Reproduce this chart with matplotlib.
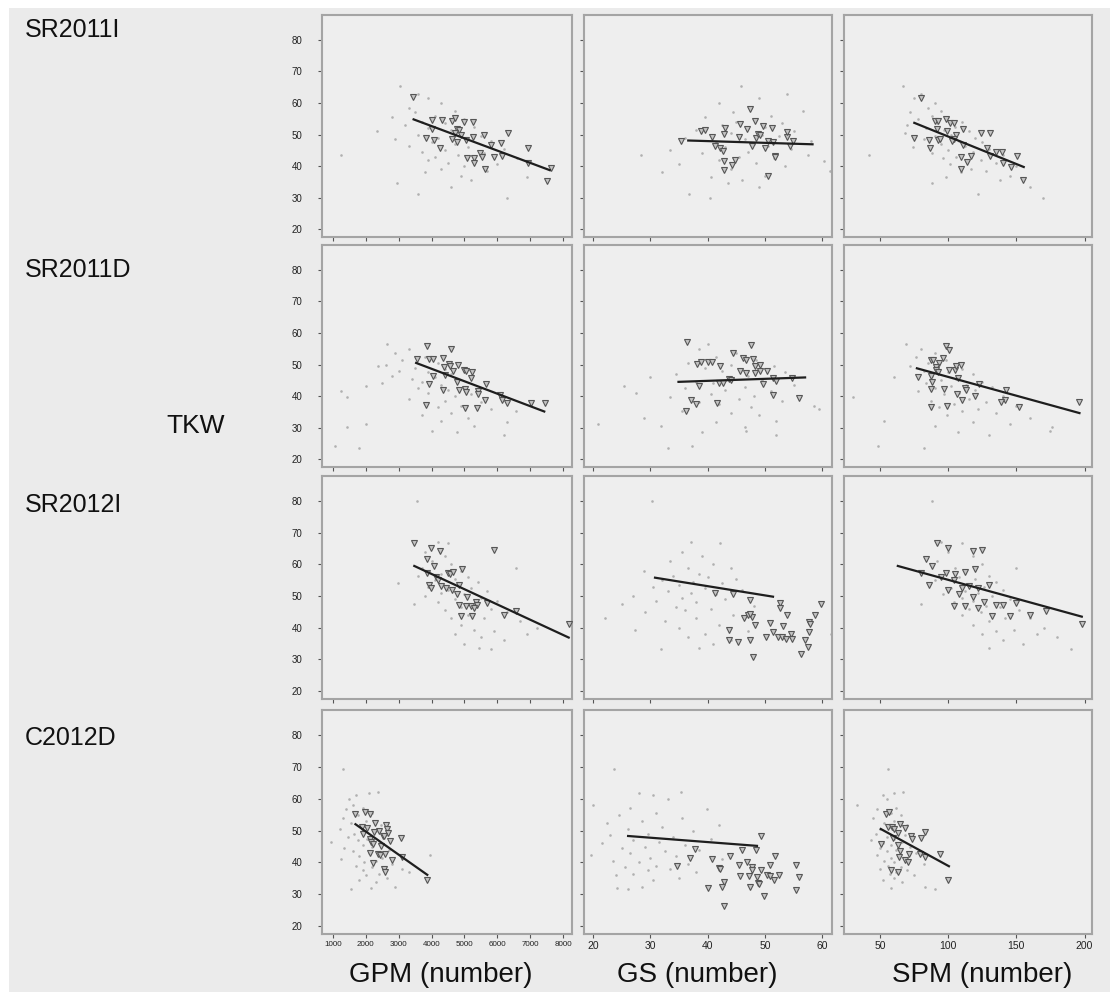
import matplotlib
matplotlib.use("Agg")
import matplotlib.pyplot as plt
from matplotlib.patches import Rectangle

plt.rcParams["font.family"] = ["Liberation Sans", "DejaVu Sans"]

W, H = 1116, 996

ROWS = ["SR2011I", "SR2011D", "SR2012I", "C2012D"]
COLS = ["GPM (number)", "GS (number)", "SPM (number)"]
Y_LABEL = "TKW"

X_TICKS = [[1000, 2000, 3000, 4000, 5000, 6000, 7000, 8000],
           [20, 30, 40, 50, 60],
           [50, 100, 150, 200]]
Y_TICKS = [20, 30, 40, 50, 60, 70, 80]

# ---- background population (grey dots): TKW per row, trait values per panel ----
DOT_Y_SR2011I = [65.3, 63.0, 61.5, 60.0, 58.5, 57.5, 57.0, 56.0, 55.5, 55.0, 54.0, 53.5, 53.0, 52.5,
                 52.0, 51.5, 51.0, 50.5, 50.0, 49.5, 49.0, 48.5, 48.0, 47.5, 47.0, 46.5, 46.0, 45.5,
                 45.0, 44.5, 44.0, 43.5, 43.0, 42.5, 42.0, 41.5, 41.0, 40.5, 40.0, 39.0, 38.5, 38.0,
                 37.0, 36.5, 35.5, 34.7, 33.5, 31.0, 29.8, 43.5]
DOT_X_SR2011I_GPM = [3045, 3600, 3900, 4300, 3300, 4700, 3500, 4100, 2800, 5000, 3700, 4400, 3200, 5300,
                     3900, 4600, 2330, 4900, 3600, 5500, 4200, 2900, 5800, 4000, 4700, 3300, 5100, 6200,
                     4400, 3700, 5600, 4800, 4100, 6600, 3900, 5300, 4500, 6000, 5000, 4300, 5700, 3800,
                     4900, 6900, 5200, 2943, 4600, 3600, 6300, 1255]
DOT_X_SR2011I_GS = [45.8, 53.9, 49.0, 42.0, 47.5, 56.7, 44.5, 51.0, 39.5, 48.5, 45.0, 53.0, 42.5, 50.0,
                    47.0, 38.0, 55.0, 44.0, 49.5, 52.5, 36.0, 46.5, 58.0, 41.5, 48.0, 50.5, 43.0, 54.5,
                    33.5, 47.0, 39.0, 57.5, 45.5, 51.5, 42.0, 60.3, 48.5, 35.0, 53.5, 44.0, 61.3, 32.1,
                    50.0, 40.5, 46.0, 43.5, 49.0, 36.8, 40.4, 28.3]
DOT_X_SR2011I_SPM = [66.7, 80, 75, 90, 85, 95, 72, 88, 100, 78, 110, 92, 70, 105, 84, 97, 115, 68, 102,
                     90, 120, 82, 108, 125, 95, 112, 74, 130, 100, 118, 88, 140, 106, 96, 124, 113, 135,
                     101, 150, 117, 128, 109, 145, 98, 138, 88.2, 160, 122, 169.5, 42.1]

DOT_Y_SR2011D = [56.5, 55.0, 53.5, 52.5, 51.5, 50.5, 50.0, 49.6, 49.0, 48.5, 48.0, 47.5, 47.0, 46.5,
                 46.0, 45.5, 45.0, 44.5, 44.0, 43.5, 43.1, 43.0, 42.5, 42.0, 41.5, 41.0, 40.5, 40.0,
                 39.6, 39.1, 38.5, 38.0, 37.5, 37.0, 36.5, 36.0, 35.3, 34.5, 34.0, 33.0, 32.0, 31.7,
                 31.2, 30.3, 30.6, 29.0, 28.6, 27.6, 24.2, 23.6]
DOT_X_SR2011D_GPM = [2633, 3300, 2900, 3800, 3100, 4200, 2600, 2378, 3500, 4400, 3000, 3900, 4600, 2800,
                     4100, 3400, 4800, 3700, 2500, 4300, 2020, 5000, 3600, 4500, 1235, 3900, 5200, 4700,
                     1429, 3300, 4400, 5500, 3800, 4900, 4200, 5800, 6561, 4600, 3700, 5100, 4300, 6306,
                     2020, 1429, 5300, 4000, 4776, 6204, 1071, 1796]
DOT_X_SR2011D_GS = [40.0, 38.5, 45.0, 41.5, 48.5, 36.5, 44.0, 51.5, 39.5, 46.0, 42.5, 53.5, 34.5, 47.0,
                    30.0, 44.5, 49.5, 38.0, 41.0, 55.0, 25.4, 46.5, 36.0, 43.0, 51.0, 27.4, 40.5, 48.0,
                    33.5, 45.5, 53.0, 38.5, 42.0, 58.5, 47.5, 59.5, 35.5, 44.0, 49.0, 28.9, 52.0, 41.5,
                    20.8, 46.5, 31.8, 46.7, 39.0, 52.0, 37.3, 33.0]
DOT_X_SR2011D_SPM = [68.8, 80, 90, 76, 98, 85, 105, 72, 92, 110, 82, 100, 118, 88, 60, 106, 95, 125,
                     84, 113, 102, 132, 90, 120, 78, 108, 97, 140, 30, 115, 87, 128, 104, 150, 93, 122,
                     110, 135, 99, 160, 53, 118, 145, 176.3, 90, 175, 107, 130, 48.8, 82]

DOT_Y_SR2012I = [80.0, 67.0, 66.8, 64.0, 62.5, 61.0, 60.0, 59.0, 58.7, 58.0, 57.0, 56.3, 56.0, 55.5,
                 55.0, 54.5, 54.0, 53.5, 53.0, 52.5, 52.0, 51.5, 51.0, 50.5, 50.0, 49.5, 49.0, 48.5,
                 48.0, 47.4, 47.0, 46.5, 46.0, 45.5, 45.0, 44.0, 43.2, 43.0, 42.0, 41.0, 40.0, 39.3,
                 39.0, 38.0, 37.9, 37.0, 36.0, 35.0, 33.5, 33.4]
DOT_X_SR2012I_GPM = [3545, 4200, 4500, 3800, 4400, 4000, 4600, 3700, 6576, 4900, 4300, 3600, 5100, 4700,
                     4100, 5400, 2970, 4800, 3900, 5200, 4500, 5700, 4300, 5000, 3800, 5500, 4700, 6000,
                     4200, 3475, 5300, 4900, 5800, 4400, 6300, 5100, 4600, 5600, 6700, 4900, 7212, 5300,
                     5900, 6909, 4700, 5500, 6200, 5000, 5444, 5800]
DOT_X_SR2012I_GS = [30.2, 37.0, 42.2, 35.5, 39.0, 33.5, 41.0, 36.5, 44.0, 28.9, 38.5, 34.0, 40.0, 45.0,
                    32.0, 37.5, 42.5, 35.0, 30.5, 39.5, 46.0, 33.0, 37.0, 41.5, 27.0, 35.5, 43.0, 31.0,
                    38.0, 25.0, 48.0, 34.5, 40.5, 36.0, 29.0, 44.5, 22.0, 38.0, 32.5, 42.0, 35.0, 27.3,
                    47.0, 39.5, 61.5, 36.5, 44.0, 41.0, 38.5, 31.8]
DOT_X_SR2012I_SPM = [88, 95, 110, 100, 118, 92, 125, 105, 150, 112, 98, 130, 108, 120, 90, 135, 85,
                     115, 126, 102, 140, 112, 122, 96, 132, 110, 145, 118, 104, 80, 128, 138, 115, 152,
                     124, 110, 142, 160, 130, 118, 170, 148, 135, 165, 125, 180, 140, 155, 130, 190]

DOT_Y_C2012D = [69.3, 62.2, 61.8, 61.3, 60.0, 58.1, 57.0, 56.9, 55.5, 55.0, 54.0, 53.0, 52.5, 51.9,
                51.0, 50.5, 50.0, 49.0, 48.5, 48.0, 47.5, 47.0, 46.3, 46.0, 45.5, 45.0, 44.5, 44.0,
                43.5, 43.0, 42.2, 42.1, 41.5, 41.0, 40.5, 40.0, 39.5, 39.0, 38.5, 38.0, 37.5, 36.9,
                36.5, 36.0, 35.0, 34.5, 34.0, 32.2, 31.9, 31.7]
DOT_X_C2012D_GPM = [1302, 2360, 2100, 1700, 1500, 1600, 1900, 1400, 2200, 1750, 1300, 2000, 1550, 2450,
                    1850, 1200, 2300, 1650, 2600, 1450, 2050, 1750, 950, 2400, 1900, 2200, 1350, 2700,
                    1600, 2100, 3951, 1800, 2500, 1250, 2300, 1950, 2800, 1700, 2200, 3100, 1900, 3316,
                    2400, 2000, 2650, 1800, 2300, 2900, 2150, 1554]
DOT_X_C2012D_GS = [23.7, 35.4, 28.0, 30.5, 33.0, 20.0, 26.5, 39.9, 31.0, 24.5, 35.5, 28.5, 22.5, 41.9,
                   32.0, 26.0, 37.5, 29.5, 23.0, 34.0, 40.5, 27.0, 31.5, 21.5, 36.0, 29.0, 25.0, 38.5,
                   32.5, 26.5, 19.6, 34.5, 30.0, 42.5, 23.5, 28.0, 36.5, 31.0, 25.5, 33.5, 29.5, 38.0,
                   27.0, 24.0, 35.0, 30.5, 43.0, 28.5, 24.1, 26.1]
DOT_X_C2012D_SPM = [56.1, 67.1, 60, 52, 55, 32.9, 62, 48, 58, 65, 45, 60, 53, 70, 57, 50, 63, 47, 68,
                    55, 60, 43, 66, 52, 58, 72, 50, 62, 55, 76, 48, 64, 58, 68, 53, 60, 82, 56, 65, 50,
                    70, 62, 57, 75, 60, 52, 66, 82.9, 58, 90]

# ---- selected lines (triangles): (trait value, TKW) ----
TRI_SR2011I_GPM = [(3450, 61.9), (4016, 54.5), (4323, 54.5), (4630, 54.3), (4712, 55.1), (4988, 53.9),
                   (5264, 53.9), (4763, 51.9), (4834, 51.4), (4000, 51.9), (3822, 48.9), (4067, 48.2),
                   (4272, 45.6), (4630, 48.7), (4783, 47.7), (5039, 48.4), (5274, 49.3), (5601, 49.8),
                   (5806, 46.8), (6112, 47.4), (6337, 50.5), (6930, 45.8), (5070, 42.4), (5294, 42.4),
                   (5294, 41.0), (5478, 44.2), (5550, 42.9), (5632, 39.0), (5887, 42.9), (6133, 43.2),
                   (6930, 41.0), (7626, 39.5), (7524, 35.3), (4700, 50.6), (4900, 50.0)]
TRI_SR2011I_GS = [(35.3, 47.8), (38.9, 51.1), (39.5, 51.5), (40.8, 49.1), (41.3, 46.2), (42.2, 45.8),
                  (42.6, 44.9), (43.0, 52.1), (42.8, 50.2), (42.8, 41.6), (42.8, 38.6), (44.3, 40.2),
                  (44.7, 41.8), (45.4, 49.1), (45.6, 53.2), (46.8, 51.8), (47.4, 58.0), (48.2, 54.2),
                  (48.5, 48.8), (48.8, 50.2), (49.1, 50.0), (47.8, 46.3), (49.7, 52.7), (50.0, 45.7),
                  (50.5, 48.1), (51.2, 52.1), (51.7, 43.2), (51.8, 42.8), (50.6, 36.7), (51.4, 47.6),
                  (53.8, 49.2), (53.9, 50.7), (54.3, 46.2), (54.9, 47.8)]
TRI_SR2011I_SPM = [(80.0, 61.6), (90.1, 54.2), (92.6, 54.4), (98.0, 54.9), (101.2, 53.7), (104.2, 53.8),
                   (91.9, 51.8), (99.3, 51.1), (110.6, 51.8), (105.4, 49.9), (104.2, 48.6), (103.0, 47.8),
                   (75.1, 48.8), (85.7, 48.3), (92.4, 48.3), (94.3, 48.6), (86.5, 45.7), (111.1, 46.8),
                   (123.9, 50.5), (130.5, 50.5), (128.8, 45.8), (130.5, 43.2), (135.0, 44.4),
                   (139.2, 44.6), (139.9, 41.1), (150.5, 43.1), (146.1, 39.7), (109.6, 42.8),
                   (116.5, 43.2), (114.0, 41.3), (109.1, 39.1), (154.7, 35.5)]

TRI_SR2011D_GPM = [(3571, 51.6), (3857, 55.9), (3908, 51.6), (4031, 51.6), (4602, 54.8), (4357, 52.2),
                   (4367, 49.1), (4520, 50.3), (4571, 49.5), (4643, 48.0), (4806, 49.7), (5000, 48.4),
                   (5051, 47.9), (5235, 47.5), (5194, 45.7), (4031, 46.2), (4418, 46.7), (4776, 44.4),
                   (3908, 43.9), (4337, 42.0), (4827, 42.0), (5010, 42.2), (5051, 41.3), (5408, 41.5),
                   (5408, 40.7), (5663, 43.8), (5622, 38.7), (6082, 40.3), (6133, 38.7), (6306, 37.7),
                   (7020, 37.9), (7449, 37.9), (3837, 37.2), (5010, 36.3), (5388, 36.1)]
TRI_SR2011D_GS = [(36.3, 57.2), (47.6, 56.1), (44.4, 53.7), (46.1, 52.1), (46.7, 51.3), (47.9, 51.6),
                  (38.2, 50.2), (38.8, 50.7), (40.1, 50.7), (40.8, 50.7), (42.1, 49.5), (48.2, 49.5),
                  (49.1, 49.7), (45.7, 48.1), (46.6, 47.2), (48.3, 47.2), (49.1, 48.1), (50.3, 48.1),
                  (43.8, 45.5), (41.9, 44.2), (42.6, 44.2), (38.5, 43.2), (44.1, 45.0), (49.7, 43.7),
                  (51.4, 45.8), (51.9, 44.7), (54.7, 45.8), (51.4, 40.2), (55.9, 39.3), (37.1, 38.7),
                  (37.9, 37.4), (41.7, 37.7), (36.2, 35.3)]
TRI_SR2011D_SPM = [(98.3, 56.0), (100.5, 54.7), (96.3, 52.1), (87.5, 51.5), (88.8, 51.5), (93.0, 50.5),
                   (90.8, 49.1), (91.3, 48.3), (92.5, 47.5), (100.5, 48.3), (105.0, 48.3), (105.5, 49.6),
                   (109.5, 49.8), (77.5, 46.1), (87.0, 46.5), (107.0, 45.7), (88.0, 44.3), (87.0, 42.2),
                   (96.8, 42.2), (112.5, 42.5), (113.0, 42.0), (122.5, 43.8), (106.3, 40.8),
                   (119.3, 40.1), (110.0, 38.8), (142.5, 41.9), (141.3, 38.8), (138.8, 38.0),
                   (87.0, 36.4), (98.8, 36.9), (152.0, 36.4), (196.3, 38.0)]

TRI_SR2012I_GPM = [(3475, 66.7), (3980, 65.3), (4253, 64.1), (3848, 61.7), (4081, 59.5), (5899, 64.6),
                   (4505, 57.4), (4556, 57.1), (4667, 57.6), (4939, 58.5), (3859, 57.4), (4131, 56.1),
                   (4182, 55.1), (3929, 53.5), (3980, 52.5), (4283, 53.2), (4434, 52.7), (4636, 51.9),
                   (4838, 53.5), (4788, 50.6), (5071, 49.6), (5343, 48.0), (5374, 47.3), (5212, 47.0),
                   (5040, 47.0), (4838, 47.3), (5293, 46.2), (5677, 47.8), (4909, 43.8), (5242, 43.8),
                   (6202, 44.1), (6556, 45.2), (8172, 41.3)]
TRI_SR2012I_GS = [(41.3, 51.1), (44.4, 50.7), (47.4, 48.9), (52.7, 47.9), (52.6, 46.3), (59.7, 47.4),
                  (58.7, 44.0), (53.8, 44.0), (46.3, 43.2), (47.0, 44.0), (47.7, 43.4), (47.4, 44.2),
                  (48.3, 40.8), (50.8, 41.6), (53.2, 40.5), (57.7, 41.9), (57.8, 41.3), (57.7, 38.7),
                  (43.8, 39.3), (51.4, 38.6), (50.1, 37.2), (52.2, 37.2), (53.0, 37.1), (53.6, 36.3),
                  (54.5, 37.9), (54.7, 36.3), (43.8, 36.0), (45.3, 35.5), (47.3, 36.0), (56.9, 36.0),
                  (57.5, 33.9), (56.3, 31.6), (47.9, 30.7)]
TRI_SR2012I_SPM = [(92, 66.7), (100, 65.3), (118, 64.1), (84, 61.7), (88, 59.5), (125, 64.6), (98, 57.4),
                   (105, 57.1), (112, 57.6), (120, 58.5), (80, 57.4), (95, 56.1), (104, 55.1), (86, 53.5),
                   (110, 52.5), (115, 53.2), (122, 52.7), (100, 51.9), (130, 53.5), (108, 50.6),
                   (118, 49.6), (126, 48.0), (135, 47.3), (112, 47.0), (104, 47.0), (140, 47.3),
                   (122, 46.2), (150, 47.8), (132, 43.8), (145, 43.8), (160, 44.1), (172, 45.2),
                   (198, 41.3)]

TRI_C2012D_GPM = [(1685, 55.3), (1987, 55.8), (2128, 55.3), (1886, 51.1), (2037, 50.9), (1906, 48.9),
                  (2289, 52.5), (2611, 51.7), (2641, 50.6), (2682, 49.1), (2410, 49.9), (2259, 49.6),
                  (2511, 48.3), (2561, 48.3), (2128, 47.5), (2158, 46.3), (2208, 45.7), (2460, 45.2),
                  (2742, 46.8), (3064, 47.6), (2138, 42.9), (2380, 42.8), (2440, 42.3), (2591, 42.6),
                  (2792, 40.8), (2208, 39.8), (2541, 38.0), (2581, 36.9), (3115, 41.8), (3870, 34.5)]
TRI_C2012D_GS = [(49.3, 48.3), (37.8, 44.3), (46.0, 44.0), (48.4, 44.0), (36.9, 41.4), (40.8, 41.0),
                 (43.9, 42.0), (51.8, 42.0), (34.7, 38.9), (41.9, 38.2), (42.1, 38.0), (45.4, 39.1),
                 (46.9, 40.1), (47.7, 38.6), (47.7, 37.5), (50.9, 39.1), (49.3, 37.5), (45.7, 35.6),
                 (47.2, 35.6), (48.6, 35.4), (50.4, 35.9), (50.9, 35.7), (52.5, 35.9), (51.6, 34.4),
                 (55.5, 39.3), (55.9, 35.4), (55.5, 31.4), (42.8, 33.8), (42.5, 32.3), (48.8, 33.5),
                 (49.0, 33.3), (40.0, 31.9), (47.4, 32.3), (49.9, 29.6), (42.9, 26.2)]
TRI_C2012D_SPM = [(54.1, 55.2), (56.6, 55.7), (56.1, 51.2), (58.5, 51.0), (60.5, 50.5), (64.6, 52.0),
                  (68.3, 50.8), (63.4, 49.4), (72.7, 48.4), (73.7, 47.5), (80.0, 47.6), (82.9, 49.7),
                  (50.5, 45.8), (59.8, 47.6), (62.9, 45.6), (64.6, 43.5), (71.2, 42.6), (64.1, 41.8),
                  (68.3, 40.7), (70.2, 40.0), (79.5, 42.6), (82.9, 41.6), (93.9, 42.8), (58.0, 37.6),
                  (63.4, 36.9), (100.0, 34.5)]

# ---- regression lines: start and end points ----
LINE_SR2011I_GPM = [(3454, 54.8), (7595, 38.7)]
LINE_SR2011I_GS = [(36.6, 48.1), (58.3, 46.9)]
LINE_SR2011I_SPM = [(75.1, 53.7), (155.4, 39.7)]
LINE_SR2011D_GPM = [(3531, 50.5), (7429, 35.1)]
LINE_SR2011D_GS = [(34.9, 44.5), (57.0, 45.9)]
LINE_SR2011D_SPM = [(77.0, 48.8), (196.3, 34.6)]
LINE_SR2012I_GPM = [(3475, 59.5), (8172, 36.9)]
LINE_SR2012I_GS = [(30.8, 55.8), (51.4, 49.8)]
LINE_SR2012I_SPM = [(63.0, 59.5), (198.0, 43.5)]
LINE_C2012D_GPM = [(1685, 52.0), (3870, 36.1)]
LINE_C2012D_GS = [(26.1, 48.3), (48.6, 45.2)]
LINE_C2012D_SPM = [(50.5, 50.5), (100.5, 38.8)]

DOT_Y = [DOT_Y_SR2011I, DOT_Y_SR2011D, DOT_Y_SR2012I, DOT_Y_C2012D]
DOT_X = [[DOT_X_SR2011I_GPM, DOT_X_SR2011I_GS, DOT_X_SR2011I_SPM],
         [DOT_X_SR2011D_GPM, DOT_X_SR2011D_GS, DOT_X_SR2011D_SPM],
         [DOT_X_SR2012I_GPM, DOT_X_SR2012I_GS, DOT_X_SR2012I_SPM],
         [DOT_X_C2012D_GPM, DOT_X_C2012D_GS, DOT_X_C2012D_SPM]]
TRI = [[TRI_SR2011I_GPM, TRI_SR2011I_GS, TRI_SR2011I_SPM],
       [TRI_SR2011D_GPM, TRI_SR2011D_GS, TRI_SR2011D_SPM],
       [TRI_SR2012I_GPM, TRI_SR2012I_GS, TRI_SR2012I_SPM],
       [TRI_C2012D_GPM, TRI_C2012D_GS, TRI_C2012D_SPM]]
LINES = [[LINE_SR2011I_GPM, LINE_SR2011I_GS, LINE_SR2011I_SPM],
         [LINE_SR2011D_GPM, LINE_SR2011D_GS, LINE_SR2011D_SPM],
         [LINE_SR2012I_GPM, LINE_SR2012I_GS, LINE_SR2012I_SPM],
         [LINE_C2012D_GPM, LINE_C2012D_GS, LINE_C2012D_SPM]]

# layout in pixels
COL_PX = [(322, 572), (584, 832), (844, 1092)]
ROW_PX = [(15, 237), (245, 467), (476, 699), (710, 934)]
XLIMS = [(667, 8273), (18.4, 61.7), (23.5, 205.5)]
YLIM = (17.5, 87.9)
BG = "#ebebeb"

fig = plt.figure(figsize=(W / 100, H / 100), dpi=100, facecolor="white")
fig.patches.append(Rectangle((9 / W, 1 - 992 / H), (1110 - 9) / W, (992 - 8) / H,
                             transform=fig.transFigure, facecolor=BG, edgecolor="none", zorder=-5))

for r in range(4):
    y0, y1 = ROW_PX[r]
    for c in range(3):
        x0, x1 = COL_PX[c]
        ax = fig.add_axes([x0 / W, 1 - y1 / H, (x1 - x0) / W, (y1 - y0) / H], zorder=2)
        ax.set_facecolor("#eeeeee")
        ax.scatter(DOT_X[r][c], DOT_Y[r], s=3.5, color="#b0b0b0", linewidths=0, zorder=2)
        tx = [p[0] for p in TRI[r][c]]
        ty = [p[1] for p in TRI[r][c]]
        ax.plot(tx, ty, linestyle="none", marker="v", markersize=4.4,
                markerfacecolor="#c4c4c4", markeredgecolor="#555555", markeredgewidth=0.8, zorder=3)
        lx = [p[0] for p in LINES[r][c]]
        ly = [p[1] for p in LINES[r][c]]
        ax.plot(lx, ly, color="#1e1e1e", linewidth=1.6, zorder=4)
        ax.set_xlim(*XLIMS[c])
        ax.set_ylim(*YLIM)
        ax.set_xticks(X_TICKS[c])
        ax.set_yticks(Y_TICKS)
        for sp in ax.spines.values():
            sp.set_color("#a4a4a4")
            sp.set_linewidth(1.5)
        ax.tick_params(axis="both", direction="out", length=3, width=0.8, color="#555555")
        ax.tick_params(axis="y", labelsize=7, pad=11, labelcolor="#222222")
        xls = 5.8 if c == 0 else 7.5
        ax.tick_params(axis="x", labelsize=xls, pad=2, labelcolor="#222222")
        if c > 0:
            ax.set_yticklabels([])
        if r < 3:
            ax.set_xticklabels([])

ROW_LABEL_Y = [30, 270, 505, 738]
for name, yy in zip(ROWS, ROW_LABEL_Y):
    fig.text(25 / W, 1 - yy / H, name, fontsize=18, ha="left", va="center", color="#111111")

fig.text(196 / W, 1 - 426 / H, Y_LABEL, fontsize=19, ha="center", va="center", color="#111111")

COL_LABEL_X = [441, 697, 982]
for name, xx in zip(COLS, COL_LABEL_X):
    fig.text(xx / W, 1 - 975 / H, name, fontsize=20, ha="center", va="center", color="#111111")

fig.savefig("out.png", dpi=100, facecolor=fig.get_facecolor())
